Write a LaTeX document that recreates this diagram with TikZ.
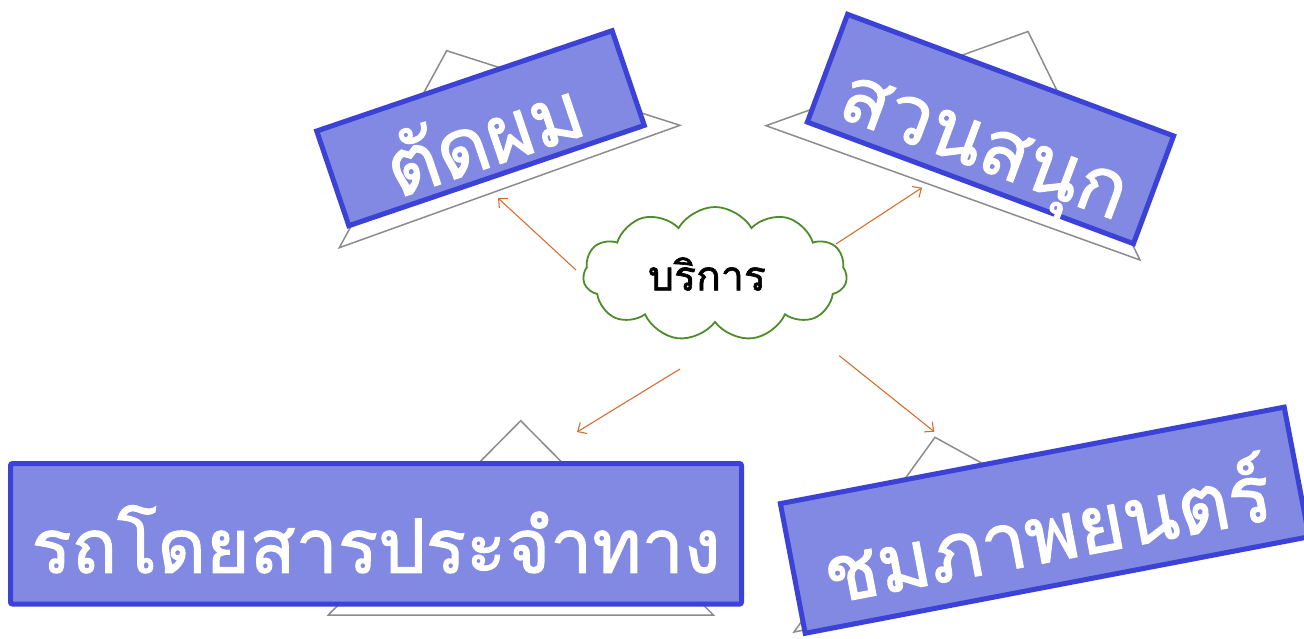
\documentclass[tikz,border=0pt]{standalone}
\usepackage{fontspec}
\newfontfamily\thai[Script=Thai,FakeBold=1.5]{Loma}
\usetikzlibrary{shapes.symbols,arrows.meta}
\definecolor{boxfill}{RGB}{129,137,226}
\definecolor{boxline}{RGB}{59,66,213}
\definecolor{cloudgreen}{RGB}{78,140,42}
\definecolor{arrowor}{RGB}{210,110,50}
\definecolor{trigray}{RGB}{140,140,140}
\begin{document}
\begin{tikzpicture}[x=1pt,y=-1pt,
  tri/.style={draw=trigray, line width=1.5pt, fill=white, line join=miter},
  sign/.style={draw=boxline, fill=boxfill, line width=5pt, text=white, inner sep=0pt,
     font=\thai\fontsize{80}{80}\selectfont, text height=88pt, text depth=8pt},
  link/.style={draw=arrowor, line width=1.1pt, -{Straight Barb[length=7pt,width=13pt]}},
  puff/.style={cloud, cloud puffs=11, cloud puff arc=120, aspect=2, draw=cloudgreen,
     line width=1.8pt, fill=white, inner sep=0pt, font=\thai\fontsize{41}{41}\selectfont}]
\useasboundingbox (0,0) rectangle (1304,638);
\clip (0,0) rectangle (1304,638);
% triangles behind the signs
\draw[tri] (446.7,50.7) -- (680,125.3) -- (339.3,247.7) -- cycle;
\draw[tri] (1028,31.5) -- (1140,260) -- (766,125.7) -- cycle;
\draw[tri] (520.7,420.7) -- (713.3,615) -- (328.3,615) -- cycle;
\draw[tri] (935,437.3) -- (1161,562) -- (794,632) -- cycle;
% signs
\node[sign, minimum width=312pt, minimum height=100pt, rotate=18.75] (cut) at (480.5,128.2) {ตัดผม};
\node[sign, minimum width=348pt, minimum height=115pt, rotate=-20.45, text height=90pt, text depth=6pt] (park) at (990.5,129) {สวนสนุก};
\node[sign, minimum width=731pt, minimum height=140.5pt, rounded corners=2pt,
      font=\thai\fontsize{75}{75}\selectfont, text height=86pt, text depth=8pt] (bus) at (376,533.8) {รถโดยสารประจำทาง};
\node[sign, minimum width=513pt, minimum height=132pt, rotate=10.84, text height=90pt, text depth=6pt] (movie) at (1044.7,520.2) {ชมภาพยนตร์};
% central cloud
\node[puff, minimum width=264pt, minimum height=134pt] (svc) at (715,274) {บริการ\hspace*{16pt}};
% connector ends
\coordinate (s1) at (576,270);  \coordinate (e1) at (498,198);
\coordinate (s2) at (836,244);  \coordinate (e2) at (922,187.7);
\coordinate (s3) at (680,369);  \coordinate (e3) at (577,432);
\coordinate (s4) at (839.3,355.7); \coordinate (e4) at (934.3,431.7);
\draw[link] (s1) -- (e1);
\draw[link] (s2) -- (e2);
\draw[link] (s3) -- (e3);
\draw[link] (s4) -- (e4);
\end{tikzpicture}
\end{document}
